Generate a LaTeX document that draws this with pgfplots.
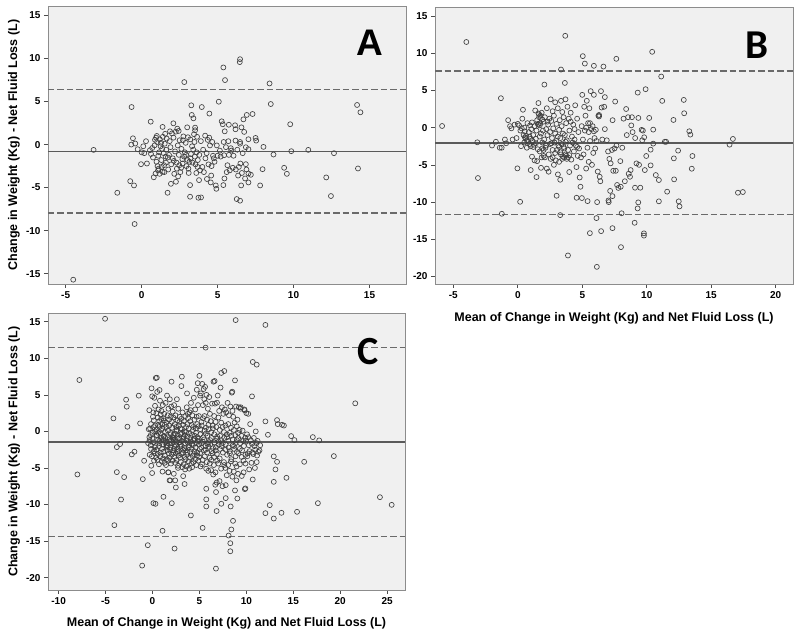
\documentclass[border=0pt]{standalone}
\usepackage{fontspec}
\setmainfont{Liberation Sans}
\newfontfamily\calibri{Carlito}
\usepackage{pgfplots}
\pgfplotsset{compat=1.18}
\definecolor{bgc}{HTML}{F0F0F0}
\definecolor{framec}{HTML}{8C8C8C}
\definecolor{markc}{HTML}{404040}
\definecolor{meanc}{HTML}{5A5A5A}
\definecolor{dashc}{HTML}{6A6A6A}
\pgfplotsset{ba/.style={
  scale only axis, anchor=south west,
  axis background/.style={fill=bgc},
  axis line style={draw=framec, line width=0.8pt},
  tick align=outside, xtick pos=bottom, ytick pos=left,
  major tick length=4pt, tick style={draw=black!70, line width=0.7pt},
  tick label style={font=\bfseries\fontsize{10}{12}\selectfont, text=black},
  /pgf/number format/assume math mode=true,
  label style={font=\bfseries\fontsize{12.5}{14}\selectfont},
  ytick={-20,-15,-10,-5,0,5,10,15},
  pts/.style={only marks, mark=o, mark size=2.5pt, draw=markc, mark options={line width=0.65pt, draw=markc}},
  meanl/.style={draw=meanc, line width=1.5pt, no marks},
  dashl/.style={draw=dashc, line width=1.4pt, no marks, dash pattern=on 6.5pt off 3pt},
}}
\begin{document}
\begin{tikzpicture}
\useasboundingbox (0,0) rectangle (800pt,639pt);
% ---------------- A ----------------
\begin{axis}[ba, at={(48pt,355pt)}, width=358pt, height=278pt,
  xmin=-6.16, xmax=17.4, ymin=-16.2, ymax=16.1,
  xtick={-5,0,5,10,15},
  ylabel={Change in Weight (Kg) - Net Fluid Loss (L)},
  ylabel style={at={(axis description cs:-0.095,0.5)}, anchor=center}]
\addplot[pts] coordinates {
(-4.50,-15.70)(-3.16,-0.62)(-1.60,-5.60)(-0.75,-4.25)(-0.50,-4.75)(-0.46,-9.23)(-0.66,4.36)(-0.57,0.73)(-0.68,0.00)(-0.42,0.12)(-0.26,-0.54)(-0.04,-2.28)(0.11,-0.20)(0.00,-0.90)(0.18,-1.00)(0.35,-2.20)(0.29,0.39)(0.60,2.66)
(0.55,-0.65)(0.62,-1.10)(0.70,-0.40)(0.80,-3.80)(0.92,-3.36)(0.88,0.55)(0.95,0.80)(1.00,1.00)(1.02,0.30)(1.05,-2.50)(1.08,-3.00)(1.10,-1.30)(1.15,-0.90)(1.18,-3.40)(1.20,0.60)(1.25,-0.20)(1.30,-1.80)(1.32,-2.60)(1.38,2.05)(1.38,-3.17)(1.40,0.90)(1.45,-1.00)(1.50,-3.20)(1.52,0.10)(1.55,1.25)(1.60,-2.10)(1.62,-0.60)(1.65,0.70)(1.71,-5.60)(1.72,-1.50)(1.75,-2.90)(1.80,-1.20)(1.85,0.40)(1.87,1.54)(1.90,-0.30)(1.93,-4.56)(1.95,-2.30)(2.00,1.30)(2.05,-1.60)(2.09,2.47)(2.10,0.80)(2.15,-3.40)(2.20,-0.80)(2.26,-4.32)(2.25,1.50)(2.30,-2.10)(2.35,1.85)(2.38,-0.10)(2.40,-3.70)(2.44,1.58)(2.45,-1.20)(2.50,0.50)(2.55,-3.20)(2.60,-2.70)(2.62,-0.50)(2.70,-2.20)(2.75,0.95)(2.80,-1.40)(2.81,7.26)(2.85,-0.90)(2.90,0.20)(2.95,-2.50)(3.00,2.00)(3.02,-1.80)(3.05,0.85)(3.10,-3.30)(3.15,-2.00)(3.19,-4.71)(3.19,-6.06)(3.20,0.60)(3.25,-1.10)(3.27,4.56)(3.30,3.44)(3.35,-2.10)(3.40,-0.60)(3.41,3.05)(3.45,1.20)(3.50,-1.40)(3.52,1.97)(3.52,1.66)(3.55,-2.30)(3.60,-3.30)(3.62,-0.90)(3.65,0.90)(3.70,-1.80)(3.74,-6.18)(3.78,-4.13)(3.80,-1.20)(3.85,-3.00)(3.90,0.40)(3.91,-6.14)(3.96,4.36)(4.00,-2.60)(4.05,-0.60)(4.10,-3.20)(4.18,1.04)(4.20,-1.60)(4.30,-4.00)(4.35,0.54)(4.40,-2.30)(4.46,3.60)(4.50,-0.10)(4.55,-4.40)(4.60,-2.50)(4.65,0.30)(4.70,-1.30)(4.75,-1.60)(4.80,-2.00)(4.88,-4.75)(4.92,-5.14)(4.95,-0.10)(5.00,-1.30)(5.08,4.98)(5.20,-1.40)(5.27,2.70)(5.34,2.36)(5.38,8.96)(5.38,-4.71)(5.40,0.30)(5.43,-1.24)(5.45,-3.94)(5.47,1.54)(5.49,7.49)(5.55,-0.30)(5.60,-3.20)(5.71,0.39)(5.74,-1.20)(5.74,2.30)(5.80,-3.00)(5.87,-0.42)(5.90,-0.70)(6.00,-2.70)(6.15,2.24)(6.18,1.78)(6.18,0.46)(6.20,-2.90)(6.26,-6.33)(6.30,-0.60)(6.40,-2.60)(6.48,0.10)(6.48,0.30)(6.48,-6.52)(6.46,9.58)(6.48,9.92)(6.50,-2.20)(6.55,-4.75)(6.57,2.00)(6.60,-3.30)(6.70,2.93)(6.75,1.47)(6.81,-3.94)(6.86,-2.28)(6.86,-0.31)(6.90,-2.90)(6.92,3.44)(7.03,-0.54)(7.03,-3.36)(7.03,-4.40)(7.03,0.62)(7.19,-3.51)(7.30,3.55)(7.50,0.77)(7.54,0.46)(7.80,-4.75)(7.96,-2.86)(8.02,-0.27)(8.42,7.10)(8.50,4.71)(8.68,-1.16)(9.38,-2.70)(9.56,-3.40)(9.78,2.36)(9.85,-0.77)(10.97,-0.62)(12.15,-3.82)(12.46,-5.98)(12.66,-1.00)(14.18,4.60)(14.40,3.75)(14.24,-2.78)
(0.75,-1.50)(0.98,-2.00)(1.12,-2.80)(1.28,0.20)(1.35,-0.50)(0.85,-0.10)(1.48,-2.40)(1.58,-1.40)(2.12,-1.90)(2.32,-2.80)(2.48,-2.40)(2.68,-1.70)(2.72,0.50)(2.92,-1.20)(3.08,-2.80)(3.22,-1.60)(3.32,-0.20)(3.48,0.30)(3.68,-2.60)(4.28,-1.00)(4.45,0.80)(4.58,-3.60)(5.15,-0.70)(5.65,-2.40)(6.05,-1.30)(6.35,-3.60)(6.65,-1.00)
};
\addplot[meanl] coordinates {(-6.16,-0.78) (17.4,-0.78)};
\addplot[dashl] coordinates {(-6.16,6.38) (17.4,6.38)};
\addplot[dashl] coordinates {(-6.16,-7.94) (17.4,-7.94)};
\end{axis}
% ---------------- B ----------------
\begin{axis}[ba, at={(435pt,355pt)}, width=358pt, height=277pt,
  xmin=-6.42, xmax=21.34, ymin=-21.0, ymax=16.2,
  xtick={-5,0,5,10,15,20},
  xlabel={Mean of Change in Weight (Kg) and Net Fluid Loss (L)},
  xlabel style={at={(axis description cs:0.5,-0.124)}, anchor=center}]
\addplot[pts] coordinates {
(-5.87,0.22)(-3.99,11.50)(-3.14,-1.97)(-3.09,-6.77)(-2.00,-2.40)(-1.70,-1.90)(-1.40,-2.70)(-1.25,-2.70)(-1.31,3.95)(-1.24,-11.57)(-1.00,-1.60)(-0.90,-2.10)(-0.75,1.00)(-0.60,0.20)(-0.50,-0.10)(-0.40,-1.60)(-0.25,0.40)(-0.10,-1.40)(0.18,-9.96)(-0.03,-5.47)(0.00,0.50)(0.10,0.30)(0.20,-0.40)(0.25,-2.50)(0.30,-0.10)(0.35,1.20)(0.40,2.40)(0.45,-1.00)(0.50,-2.00)(0.50,0.00)(0.55,-0.50)(0.60,-1.40)(0.65,-1.10)(0.70,-2.70)(0.75,0.60)(0.80,-1.90)(0.85,-0.60)(0.90,-1.20)(0.95,0.30)(1.00,-5.70)(1.00,-2.50)(1.05,-0.20)(1.10,-3.90)(1.10,0.70)(1.15,-1.80)(1.20,-1.00)(1.25,-2.30)(1.30,0.20)(1.30,-4.40)(1.35,2.30)(1.40,-1.50)(1.45,-6.64)(1.45,-0.40)(1.50,-4.50)(1.50,1.00)(1.55,-2.90)(1.60,3.30)(1.60,0.40)(1.65,1.80)(1.65,1.40)(1.70,-3.20)(1.70,-1.20)(1.75,1.60)(1.75,0.60)(1.80,-0.80)(1.80,-5.40)(1.85,2.00)(1.85,-4.00)(1.90,-2.00)(1.90,1.10)(1.95,-0.40)(2.00,-3.00)(2.00,0.80)(2.06,5.78)(2.05,-1.60)(2.10,-4.00)(2.10,1.40)(2.15,-2.70)(2.20,-0.20)(2.25,-5.50)(2.25,2.60)(2.30,-1.00)(2.35,0.40)(2.39,-5.92)(2.40,-3.60)(2.45,1.20)(2.50,-2.20)(2.50,-0.60)(2.55,3.80)(2.55,-4.20)(2.60,0.90)(2.65,-1.40)(2.70,2.20)(2.70,-3.00)(2.75,-0.10)(2.80,-5.00)(2.80,1.60)(2.85,-2.00)(2.90,3.40)(2.90,-0.80)(2.95,-4.40)(3.00,0.50)(3.00,-1.80)(3.01,-9.15)(3.05,-3.00)(3.10,2.60)(3.11,-6.28)(3.15,-2.40)(3.20,-0.30)(3.20,-4.60)(3.25,1.00)(3.29,-7.00)(3.29,-11.75)(3.30,-1.40)(3.35,7.80)(3.35,3.60)(3.35,-3.60)(3.40,-2.20)(3.40,0.20)(3.45,2.10)(3.50,-3.90)(3.50,-0.80)(3.55,1.40)(3.60,-4.00)(3.60,-2.80)(3.65,6.00)(3.68,12.33)(3.65,-1.00)(3.70,3.80)(3.70,-3.60)(3.75,0.60)(3.80,-4.20)(3.80,-1.70)(3.85,2.80)(3.89,-17.17)(3.90,-3.00)(3.95,1.20)(3.99,-5.96)(4.00,-0.40)(4.05,-2.40)(4.10,2.00)(4.15,-4.30)(4.20,-1.20)(4.30,0.40)(4.35,-3.20)(4.40,-1.60)(4.45,3.00)(4.50,-2.40)(4.56,-9.42)(4.55,-5.30)(4.60,1.20)(4.65,-3.80)(4.70,-0.60)(4.75,-2.80)(4.80,-6.70)(4.86,-7.94)(4.90,-4.00)(4.97,-9.46)(4.95,0.20)(5.00,4.40)(5.04,9.60)(5.05,-1.60)(5.10,-3.60)(5.15,2.80)(5.20,8.60)(5.20,-0.40)(5.25,1.60)(5.30,-5.50)(5.35,3.60)(5.40,-2.70)(5.41,-9.87)(5.45,0.60)(5.50,-4.60)(5.55,2.60)(5.59,-14.17)(5.60,-1.80)(5.65,4.90)(5.70,-0.20)(5.75,-5.00)(5.80,0.20)(5.85,-3.40)(5.90,8.30)(5.90,4.40)(5.95,-1.40)(6.00,-2.80)(6.05,-0.30)(6.10,-12.15)(6.13,-18.70)(6.15,-10.00)(6.20,-5.90)(6.25,1.60)(6.30,1.50)(6.35,-6.60)(6.40,-7.20)(6.45,4.90)(6.46,-13.90)(6.50,2.70)(6.55,-1.60)(6.64,8.20)(6.70,2.80)(6.75,4.10)(6.75,-0.20)(6.90,-1.70)(7.00,-3.20)(7.03,-9.78)(7.05,-10.00)(7.10,-4.20)(7.16,-8.50)(7.20,-4.80)(7.30,-3.00)(7.34,-13.50)(7.34,-9.20)(7.35,1.00)(7.40,-5.80)(7.50,-2.80)(7.55,3.50)(7.60,-5.80)(7.64,9.24)(7.65,-2.40)(7.70,-7.70)(7.80,-8.10)(7.95,-4.50)(7.98,-7.94)(8.00,-16.05)(8.05,-11.50)(8.10,-2.70)(8.20,1.20)(8.30,-7.20)(8.40,2.50)(8.45,-1.00)(8.55,1.40)(8.60,-6.20)(8.70,-6.60)(8.75,-5.70)(8.80,0.30)(8.85,1.40)(8.90,-0.60)(9.06,-12.78)(9.09,-8.07)(9.10,-1.40)(9.20,-4.80)(9.29,-10.85)(9.30,4.70)(9.34,-10.04)(9.35,1.30)(9.40,-5.00)(9.50,-8.07)(9.60,-0.30)(9.65,-1.70)(9.70,-0.40)(9.78,-14.20)(9.78,-14.50)(9.80,-1.30)(9.85,-5.70)(9.91,5.16)(9.96,-3.81)(10.19,1.30)(10.30,-2.96)(10.30,-5.07)(10.42,10.18)(10.50,-0.27)(10.50,-2.15)(10.70,-6.37)(10.94,-7.04)(10.94,-9.90)(11.12,6.86)(11.20,3.59)(11.40,-1.90)(11.50,-1.90)(11.58,-8.60)(12.07,1.03)(12.10,-4.13)(12.12,-6.95)(12.43,-3.09)(12.48,-9.90)(12.54,-10.58)(12.87,3.72)(12.90,1.93)(13.30,-0.49)(13.38,-0.94)(13.49,-5.52)(13.54,-3.81)(16.42,-2.29)(16.68,-1.52)(17.07,-8.74)(17.45,-8.65)
(0.55,-1.30)(0.70,-1.70)(0.90,-2.20)(1.00,-1.50)(1.20,-2.60)(1.40,-2.10)(1.55,0.50)(1.60,1.90)(1.70,0.30)(1.90,-2.80)(2.00,-3.80)(2.20,-2.40)(2.30,0.80)(2.60,-2.10)(2.70,-4.00)(2.90,-3.40)(3.10,-1.20)(3.20,-2.60)(3.30,-3.30)(3.45,-4.20)(3.55,-2.60)(3.70,-1.90)(3.75,-3.80)(3.90,-4.00)(4.00,-3.70)(4.10,0.80)(4.25,-2.00)(4.40,-0.20)(4.60,-2.60)(5.30,0.00)(5.50,-0.60)(5.60,0.60)(5.90,-0.50)(6.10,-1.80)(6.30,1.70)
};
\addplot[meanl] coordinates {(-6.42,-2.06) (21.34,-2.06)};
\addplot[dashl] coordinates {(-6.42,7.58) (21.34,7.58)};
\addplot[dashl] coordinates {(-6.42,-11.7) (21.34,-11.7)};
\end{axis}
% ---------------- C ----------------
\begin{axis}[ba, at={(48pt,49pt)}, width=357pt, height=277pt,
  xmin=-11.13, xmax=26.9, ymin=-21.7, ymax=16.2,
  xtick={-10,-5,0,5,10,15,20,25},
  ylabel={Change in Weight (Kg) - Net Fluid Loss (L)},
  ylabel style={at={(axis description cs:-0.095,0.5)}, anchor=center},
  xlabel={Mean of Change in Weight (Kg) and Net Fluid Loss (L)},
  xlabel style={at={(axis description cs:0.5,-0.121)}, anchor=center}]
\addplot[pts] coordinates {
(-0.40,0.3)(-0.33,-0.8)(-0.46,-1.6)(-0.30,-3.2)
(-0.25,0.4)(-0.18,-0.5)(-0.31,-1.2)(-0.15,-2.4)(-0.34,2.9)
(-0.10,5.9)(-0.03,4.8)(-0.16,1.0)(0.00,-0.2)(-0.19,-1.9)(-0.06,-3.4)(-0.13,-4.7)
(0.05,2.0)(0.12,0.6)(-0.01,-1.0)(0.15,-2.7)(-0.04,-5.7)(0.09,2.6)
(0.20,4.6)(0.27,3.5)(0.14,1.5)(0.30,0.0)(0.11,-1.5)(0.24,-3.0)(0.17,-4.0)
(0.35,7.3)(0.42,2.5)(0.29,0.8)(0.45,-0.6)(0.26,-2.2)(0.39,-3.6)(0.32,-2.0)
(0.50,5.4)(0.57,1.9)(0.44,0.3)(0.60,-1.1)(0.41,-2.5)(0.54,-3.9)(0.47,-0.5)
(0.65,3.0)(0.72,1.4)(0.59,-0.2)(0.75,-1.6)(0.56,-3.1)(0.69,-4.5)(0.62,0.9)
(0.80,4.2)(0.87,2.3)(0.74,0.6)(0.90,-0.9)(0.71,-2.0)(0.84,-3.4)(0.77,-1.3)(0.92,1.7)
(0.95,2.8)(1.02,1.0)(0.89,-0.3)(1.05,-1.8)(0.86,-2.9)(0.99,-4.1)(0.92,0.2)
(1.10,3.6)(1.17,1.8)(1.04,0.4)(1.20,-1.2)(1.01,-2.4)(1.14,-3.7)(1.07,-5.5)(1.22,-0.6)
(1.25,2.4)(1.32,0.9)(1.19,-0.7)(1.35,-1.5)(1.16,-2.8)(1.29,-4.3)(1.22,1.5)
(1.40,3.9)(1.47,1.2)(1.34,-0.1)(1.50,-1.9)(1.31,-3.3)(1.44,-4.6)(1.37,-0.9)(1.52,-2.2)
(1.55,4.9)(1.62,2.2)(1.49,0.6)(1.65,-0.8)(1.46,-1.4)(1.59,-2.6)(1.52,-3.8)(1.67,-5.6)
(1.70,3.1)(1.77,1.6)(1.64,0.1)(1.80,-1.1)(1.61,-2.0)(1.74,-3.0)(1.67,-4.0)(1.82,-6.7)
(1.85,4.4)(1.92,2.0)(1.79,0.8)(1.95,-0.4)(1.76,-1.7)(1.89,-2.5)(1.82,-3.6)(1.97,-1.2)
(2.00,3.4)(2.07,1.3)(1.94,-0.2)(2.10,-1.3)(1.91,-2.2)(2.04,-3.2)(1.97,-4.4)(2.12,-0.8)
(2.15,2.7)(2.22,1.9)(2.09,0.5)(2.25,-0.9)(2.06,-1.6)(2.19,-2.9)(2.12,-4.0)(2.27,-5.8)
(2.30,3.6)(2.37,1.0)(2.24,-0.5)(2.40,-1.8)(2.21,-2.6)(2.34,-3.5)(2.27,-1.1)(2.42,-6.7)
(2.45,2.2)(2.52,0.6)(2.39,-0.3)(2.55,-1.4)(2.36,-2.1)(2.49,-3.0)(2.42,-4.3)(2.57,0.2)
(2.60,4.4)(2.67,1.5)(2.54,0.1)(2.70,-1.0)(2.51,-1.9)(2.64,-2.8)(2.57,-3.9)(2.72,-5.0)
(2.75,3.1)(2.82,0.8)(2.69,-0.6)(2.85,-1.5)(2.66,-2.4)(2.79,-3.3)(2.72,-4.7)
(2.90,2.0)(2.97,0.4)(2.84,-0.9)(3.00,-1.8)(2.81,-2.7)(2.94,-3.6)(2.87,1.3)
(3.05,1.7)(3.12,0.3)(2.99,-0.4)(3.15,-1.3)(2.96,-2.1)(3.09,-3.1)(3.02,-4.2)(3.08,6.2)
(3.20,2.6)(3.27,0.9)(3.14,-0.2)(3.30,-1.0)(3.11,-2.0)(3.24,-2.9)(3.17,-4.9)
(3.35,1.4)(3.42,0.0)(3.29,-0.8)(3.45,-1.6)(3.26,-2.5)(3.39,-3.5)(3.32,-4.5)
(3.50,2.1)(3.57,0.6)(3.44,-0.5)(3.60,-1.2)(3.41,-2.3)(3.54,-3.8)(3.47,-5.2)
(3.65,3.3)(3.72,1.0)(3.59,-0.1)(3.75,-1.5)(3.56,-2.6)(3.69,-3.2)(3.62,-4.8)(3.68,5.2)
(3.80,1.8)(3.87,0.4)(3.74,-0.7)(3.90,-1.9)(3.71,-2.9)(3.84,-4.1)(3.77,2.4)
(3.95,2.6)(4.02,1.4)(3.89,-0.3)(4.05,-1.4)(3.86,-2.2)(3.99,-3.6)(3.92,-5.1)
(4.10,3.9)(4.17,0.9)(4.04,-0.9)(4.20,-1.7)(4.01,-2.8)(4.14,-4.4)(4.07,2.9)
(4.25,2.2)(4.32,0.2)(4.19,-0.5)(4.35,-1.2)(4.16,-2.4)(4.29,-3.4)(4.22,-4.9)
(4.40,4.6)(4.47,1.6)(4.34,0.6)(4.50,-1.0)(4.31,-1.9)(4.44,-3.1)(4.37,-4.2)
(4.55,3.0)(4.62,0.4)(4.49,-0.6)(4.65,-1.6)(4.46,-2.7)(4.59,-3.8)
(4.70,2.0)(4.77,1.0)(4.64,-0.2)(4.80,-1.3)(4.61,-2.2)(4.74,-3.3)(4.67,-4.6)(4.72,5.7)
(4.85,3.6)(4.92,0.7)(4.79,-0.8)(4.95,-1.8)(4.76,-2.9)(4.89,-4.0)(4.82,6.6)
(5.00,7.6)(5.07,4.9)(4.94,2.1)(5.10,0.3)(4.91,-1.0)(5.04,-2.4)(4.97,-3.5)(5.12,-4.8)
(5.15,5.2)(5.22,1.3)(5.09,-0.4)(5.25,-1.6)(5.06,-3.0)
(5.30,6.5)(5.37,3.6)(5.24,0.8)(5.40,-0.8)(5.21,-2.2)(5.34,-3.9)(5.27,-4.5)
(5.45,5.8)(5.52,4.4)(5.39,1.8)(5.55,0.1)(5.36,-1.4)(5.49,-2.6)
(5.60,6.1)(5.67,3.9)(5.54,2.1)(5.70,0.5)(5.51,-1.1)(5.64,-2.0)(5.57,-3.4)(5.72,-5.1)
(5.75,5.0)(5.82,1.6)(5.69,-0.3)(5.85,-1.7)(5.66,-2.5)(5.79,-4.2)
(5.90,3.1)(5.97,0.9)(5.84,-0.6)(6.00,-1.5)(5.81,-2.9)(5.94,-5.4)
(6.05,4.7)(6.12,2.4)(5.99,0.3)(6.15,-1.2)(5.96,-2.1)(6.09,-3.6)
(6.20,1.4)(6.27,-0.1)(6.14,-1.8)(6.30,-2.7)(6.11,-4.4)(6.24,-5.3)
(6.35,3.8)(6.42,0.8)(6.29,-0.9)(6.45,-2.3)(6.26,-3.9)
(6.50,6.8)(6.57,2.1)(6.44,0.4)(6.60,-1.5)(6.41,-3.0)(6.54,-4.6)(6.47,-5.9)
(6.65,3.8)(6.72,1.3)(6.59,-0.4)(6.75,-2.2)(6.56,-3.5)(6.69,-7.3)
(6.80,0.6)(6.87,-1.0)(6.74,-2.6)(6.90,-4.0)(6.71,-5.6)(6.84,-7.0)(6.77,-8.3)
(6.95,4.9)(7.02,1.9)(6.89,-0.7)(7.05,-1.8)(6.86,-3.1)
(7.10,2.8)(7.17,0.2)(7.04,-1.4)(7.20,-2.4)(7.01,-4.4)(7.14,-6.8)
(7.25,6.0)(7.32,1.2)(7.19,-0.6)(7.35,-2.0)(7.16,-3.7)
(7.40,3.3)(7.47,0.6)(7.34,-1.2)(7.50,-2.9)(7.31,-5.1)
(7.55,2.4)(7.62,-0.1)(7.49,-1.6)(7.65,-4.6)(7.46,-7.5)
(7.70,3.0)(7.77,0.8)(7.64,-0.9)(7.80,-2.5)(7.61,-4.2)
(7.85,2.6)(7.92,-0.4)(7.79,-1.8)(7.95,-3.2)(7.76,-5.0)
(8.00,3.9)(8.07,1.0)(7.94,-0.8)(8.10,-2.2)(7.91,-6.0)
(8.15,2.2)(8.22,-0.2)(8.09,-1.3)(8.25,-3.0)(8.06,-4.6)
(8.30,3.4)(8.37,0.5)(8.24,-2.7)(8.40,-3.8)(8.21,-5.4)
(8.45,5.3)(8.52,2.8)(8.39,-0.6)(8.55,-1.9)(8.36,-4.1)
(8.60,2.0)(8.67,0.2)(8.54,-1.1)(8.70,-2.4)(8.51,-6.2)
(8.75,1.2)(8.82,-0.5)(8.69,-2.0)(8.85,-3.4)(8.66,-5.5)
(8.90,3.4)(8.97,0.7)(8.84,-1.6)(9.00,-2.8)(8.81,-4.4)(8.94,-6.7)
(9.05,1.6)(9.12,-0.2)(8.99,-1.2)(9.15,-3.0)(8.96,-4.8)
(9.20,3.3)(9.27,0.2)(9.14,-0.9)(9.30,-2.4)(9.11,-5.8)
(9.40,3.3)(9.47,-0.6)(9.34,-1.6)(9.50,-3.5)(9.31,-4.5)
(9.60,0.1)(9.67,-1.3)(9.54,-2.6)(9.70,-4.0)(9.51,-6.1)
(9.80,2.9)(9.87,-0.9)(9.74,-2.0)(9.90,-3.2)(9.71,-5.6)(9.84,-7.9)
(10.00,2.5)(10.07,-0.4)(9.94,-1.3)(10.10,-3.4)(9.91,-4.4)
(10.20,-0.8)(10.27,-1.9)(10.14,-3.0)(10.30,-5.2)
(10.40,1.0)(10.47,-1.2)(10.34,-2.7)
(10.60,-1.7)(10.67,-2.9)(10.54,-4.3)
(10.80,-0.9)(10.87,-2.0)(10.74,-3.1)
(11.00,0.0)(11.07,-1.6)(10.94,-2.5)(11.10,-4.2)(10.91,-5.0)
(11.20,-1.3)(11.27,-2.8)(11.14,-3.3)
(11.40,-2.6)(11.47,-1.9)
(-5.05,15.41)(8.86,15.23)(12.03,14.57)(5.66,11.46)(10.68,9.50)(11.10,9.13)(-7.79,7.03)(-8.00,-5.89)(21.60,3.84)(19.32,-3.38)(24.23,-9.00)(25.48,-10.05)(17.62,-9.82)(17.08,-0.78)(17.76,-1.23)(14.77,-0.64)(15.12,-1.19)(16.16,-4.16)(15.40,-11.00)(13.74,-11.14)(12.92,-11.92)(12.03,-11.19)(12.49,-10.09)(14.27,-6.35)(12.92,-3.42)(13.27,-4.16)(13.10,-5.20)(12.92,-6.90)(13.27,1.55)(13.34,1.00)(13.80,0.90)(14.00,0.80)(12.03,1.37)(12.30,-0.46)(10.60,4.79)
(-4.16,1.78)(-2.81,4.34)(-2.74,3.38)(-2.67,0.64)(-3.80,-2.15)(-3.45,-1.73)(-3.80,-5.57)(-3.02,-6.26)(-3.35,-9.32)(-4.06,-12.83)(-2.20,-3.15)(-1.92,-2.78)(-1.46,4.89)(-1.32,1.10)(-1.03,-6.53)(-0.89,-4.02)(-0.50,-15.57)(-1.10,-18.36)(0.10,-9.82)(0.32,-9.91)(1.17,-8.95)(1.07,-13.60)(2.06,-9.82)(2.35,-16.03)(4.09,-11.50)(5.34,-13.20)(5.73,-7.85)(5.73,-9.30)(5.73,-10.27)(6.76,-18.77)(6.83,-10.90)(7.33,-9.90)(7.80,-9.13)(8.33,-10.27)(8.58,-12.24)(8.40,-13.42)(8.11,-14.25)(8.29,-15.30)(8.29,-16.40)(9.04,-9.18)(8.79,-8.08)(9.90,-7.80)(10.68,-6.58)(7.80,-7.35)
(0.46,7.35)(0.75,5.66)(2.03,6.80)(3.13,7.49)(7.33,8.00)(7.65,8.26)(6.62,6.90)(8.79,6.98)(8.50,5.43)(6.87,3.93)(9.40,3.10)(9.80,3.00)(10.20,2.40)(3.27,-6.12)(3.42,-7.20)(2.49,-7.67)(1.90,-6.70)(1.70,-5.60)
};
\addplot[meanl] coordinates {(-11.13,-1.46) (26.9,-1.46)};
\addplot[dashl] coordinates {(-11.13,11.5) (26.9,11.5)};
\addplot[dashl] coordinates {(-11.13,-14.4) (26.9,-14.4)};
\end{axis}
\node[inner sep=0pt, font=\bfseries\fontsize{37}{40}\selectfont] at (370pt,596pt) {A};
\node[inner sep=0pt, font=\calibri\bfseries\fontsize{41}{44}\selectfont] at (756.7pt,594pt) {B};
\node[inner sep=0pt, font=\calibri\bfseries\fontsize{40}{44}\selectfont] at (367.7pt,287.3pt) {C};
\end{tikzpicture}
\end{document}
